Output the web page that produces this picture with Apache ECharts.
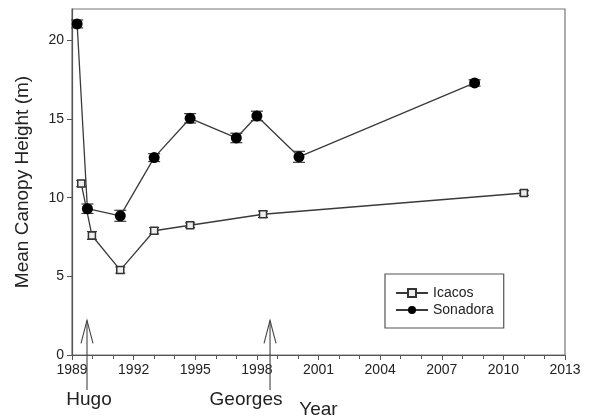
<!DOCTYPE html>
<html>
<head>
<meta charset="utf-8">
<script src="https://cdn.jsdelivr.net/npm/echarts@6/dist/echarts.min.js"></script>
<style>html,body{margin:0;padding:0;background:#fff}#c{width:592px;height:418px}</style>
</head>
<body>
<div id="c"></div>
<script>
// ---- data ----
const icacosYears = [1989.45, 1989.97, 1991.35, 1993.0, 1994.75, 1998.3, 2011.0];
const icacosHeight = [10.9, 7.6, 5.4, 7.9, 8.25, 8.95, 10.3];
const icacosErr = [0.2, 0.25, 0.2, 0.2, 0.15, 0.2, 0.15];
const sonadoraYears = [1989.25, 1989.75, 1991.35, 1993.0, 1994.75, 1997.0, 1998.0, 2000.05, 2008.6];
const sonadoraHeight = [21.05, 9.3, 8.85, 12.55, 15.05, 13.8, 15.2, 12.6, 17.3];
const sonadoraErr = [0.25, 0.3, 0.35, 0.25, 0.3, 0.3, 0.3, 0.35, 0.2];
const hurricaneYears = [1989.73, 1998.64];
const hurricaneNames = ['Hugo', 'Georges'];
const arrowTipHeight = [2.2, 2.2];
const xTicks = [1989, 1992, 1995, 1998, 2001, 2004, 2007, 2010, 2013];
const yTicks = [0, 5, 10, 15, 20];

// ---- styles (not data) ----
const labelShift = { Hugo: 2, Georges: -24 };
const FONT = '"Liberation Sans", Arial, sans-serif';
const LINE = '#3a3a3a';

const icacosData = icacosYears.map((x, i) => [x, icacosHeight[i]]);
const sonadoraData = sonadoraYears.map((x, i) => [x, sonadoraHeight[i]]);
const icacosErrData = icacosYears.map((x, i) => [x, icacosHeight[i], icacosErr[i]]);
const sonadoraErrData = sonadoraYears.map((x, i) => [x, sonadoraHeight[i], sonadoraErr[i]]);
const hurricaneData = hurricaneYears.map((x, i) => [x, arrowTipHeight[i], hurricaneNames[i]]);

function errRender(cap) {
  return function (params, api) {
    const x = api.value(0), y = api.value(1), e = api.value(2);
    const hi = api.coord([x, y + e]);
    const lo = api.coord([x, y - e]);
    const st = { stroke: LINE, lineWidth: 1.2 };
    return {
      type: 'group',
      children: [
        { type: 'line', shape: { x1: hi[0], y1: hi[1], x2: lo[0], y2: lo[1] }, style: st },
        { type: 'line', shape: { x1: hi[0] - cap, y1: hi[1], x2: hi[0] + cap, y2: hi[1] }, style: st },
        { type: 'line', shape: { x1: lo[0] - cap, y1: lo[1], x2: lo[0] + cap, y2: lo[1] }, style: st }
      ]
    };
  };
}

function arrowRender(params, api) {
  const x = api.value(0), v = api.value(1);
  const name = hurricaneNames[params.dataIndex];
  const tip = api.coord([x, v]);
  const base = api.coord([x, 0]);
  const st = { stroke: '#444', lineWidth: 1.1, fill: null };
  return {
    type: 'group',
    children: [
      { type: 'line', shape: { x1: tip[0], y1: tip[1], x2: tip[0], y2: base[1] + 35 }, style: st },
      { type: 'polyline', shape: { points: [[tip[0] - 6, tip[1] + 23], [tip[0], tip[1]], [tip[0] + 6, tip[1] + 23]] }, style: st },
      { type: 'text', style: { text: name, x: tip[0] + labelShift[name], y: base[1] + 45, align: 'center', verticalAlign: 'middle', font: '19px ' + FONT, fill: '#222' } }
    ]
  };
}

const chart = echarts.init(document.getElementById('c'), null, { renderer: 'canvas' });
chart.setOption({
  animation: false,
  backgroundColor: '#fff',
  grid: { left: 72, right: 27, top: 9, bottom: 63, containLabel: false, outerBoundsMode: 'none', show: true, borderColor: '#777', borderWidth: 1.2, backgroundColor: 'transparent' },
  legend: {
    data: ['Icacos', 'Sonadora'],
    orient: 'vertical',
    left: 385, top: 274,
    padding: [12, 10, 11, 10],
    itemWidth: 32, itemHeight: 10, itemGap: 3,
    borderColor: '#555', borderWidth: 1.2,
    textStyle: { fontFamily: FONT, fontSize: 14, color: '#222' }
  },
  xAxis: {
    type: 'value', min: 1989, max: 2013, interval: 3,
    name: 'Year', nameLocation: 'middle', nameGap: 45,
    nameTextStyle: { fontFamily: FONT, fontSize: 19, color: '#222' },
    axisLine: { lineStyle: { color: '#555', width: 1.2 } },
    axisTick: { show: true, inside: false, length: 5, lineStyle: { color: '#555' } },
    minorTick: { show: true, splitNumber: 3, length: 4, lineStyle: { color: '#555' } },
    axisLabel: { fontFamily: FONT, fontSize: 14, color: '#222', margin: 8, formatter: v => xTicks.includes(v) ? String(v) : '' },
    splitLine: { show: false }
  },
  yAxis: {
    type: 'value', min: 0, max: 22, interval: 5,
    name: 'Mean Canopy Height (m)', nameLocation: 'middle', nameGap: 40,
    nameTextStyle: { fontFamily: FONT, fontSize: 19, color: '#222' },
    axisLine: { show: true, lineStyle: { color: '#555', width: 1.2 } },
    axisTick: { show: true, inside: false, length: 5, lineStyle: { color: '#555' } },
    axisLabel: { fontFamily: FONT, fontSize: 14, color: '#222', margin: 8, showMaxLabel: false, formatter: v => yTicks.includes(v) ? String(v) : '' },
    splitLine: { show: false }
  },
  series: [
    {
      name: 'Icacos', type: 'line', data: icacosData, z: 3,
      symbol: 'rect', symbolSize: 7,
      lineStyle: { color: LINE, width: 1.3 },
      itemStyle: { color: '#eee', borderColor: '#333', borderWidth: 1.5 }
    },
    {
      name: 'Sonadora', type: 'line', data: sonadoraData, z: 3,
      symbol: 'circle', symbolSize: 11,
      lineStyle: { color: LINE, width: 1.3 },
      itemStyle: { color: '#000', borderColor: '#000', borderWidth: 0 }
    },
    { name: 'icErr', type: 'custom', data: icacosErrData, renderItem: errRender(5), z: 2, silent: true },
    { name: 'soErr', type: 'custom', data: sonadoraErrData, renderItem: errRender(6), z: 2, silent: true },
    { name: 'hurricanes', type: 'custom', data: hurricaneData, renderItem: arrowRender, clip: false, z: 4, silent: true }
  ]
});
</script>
</body>
</html>
